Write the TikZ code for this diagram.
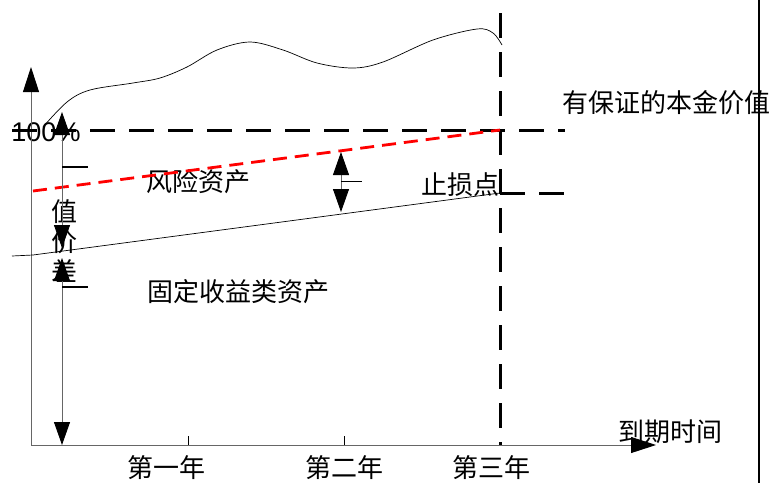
\documentclass[tikz,border=0pt]{standalone}
\usepackage{fontspec}
\setmainfont{Liberation Sans}
\newfontfamily\cjk{Noto Sans CJK SC}
\usetikzlibrary{arrows.meta,positioning}
\definecolor{axisgray}{HTML}{666666}
\definecolor{riskred}{HTML}{FF0000}

\begin{document}
\begin{tikzpicture}[x=1pt,y=-1pt,
  lbl/.style={font=\cjk\fontsize{26pt}{30pt}\selectfont,inner sep=0pt,align=center},
  axis/.style={-{Triangle[width=16pt,length=25pt,color=black]},axisgray,line width=0.9pt},
  dbl/.style={{Triangle[width=16pt,length=23pt,color=black]}-{Triangle[width=16pt,length=23pt,color=black]},axisgray,line width=0.9pt},
  bigdash/.style={black,line width=3pt,dash pattern=on 25pt off 14pt},
  riskline/.style={riskred,line width=2.8pt,dash pattern=on 14pt off 8pt},
  fixline/.style={black,line width=0.7pt},
  mark tick/.style={black,line width=2.8pt},
  axis tick/.style={black,line width=0.6pt}
]
  \useasboundingbox (0,0) rectangle (772,483);
  % labels
  \node[font=\fontsize{27pt}{30pt}\selectfont,inner sep=0pt] (n100) at (46,132) {100\%};
  \node[lbl] (principal) at (666,103) {有保证的本金价值};
  \node[lbl] (risk) at (198,182) {风险资产};
  \node[lbl] (stop) at (460,185) {止损点};
  \node[lbl] (fixed) at (238,292) {固定收益类资产};
  \node[lbl] (spread) at (65,241) {值\\价\\差};
  \node[lbl] (y1) at (166,468) {第一年};
  \node[lbl] (y2) at (344,468) {第二年};
  \node[lbl] (y3) at (491,468) {第三年};
  \node[lbl] (tlabel) at (670,432) {到期时间};
  % axes
  \coordinate (O) at (31,445);
  \coordinate (ytop) at (31,67);
  \coordinate (xend) at (656,445);
  \draw[axis] (O) -- (ytop);
  \draw[axis] (O) -- (xend);
  \foreach \t/\x in {t1/188,t2/344} {
    \coordinate (\t) at (\x,445);
    \draw[axis tick] (\t) -- ++(0,-9);
  }
  % portfolio value
  \draw[black,line width=0.7pt] plot[smooth,tension=0.55] coordinates {(43,127) (67,102) (90,90) (133,83) (160,78) (187,67) (217,50) (250,42) (283,50) (317,63) (353,68) (383,62) (433,40) (477,29) (493,33) (502,45)};
  % lines
  \coordinate (h1a) at (12,130);
  \coordinate (h1b) at (565,130);
  \coordinate (p3) at (500,130);
  \coordinate (s3) at (500,193);
  \coordinate (h2b) at (565,193);
  \coordinate (vtop) at (500,13);
  \coordinate (vbot) at (500,445);
  \coordinate (f0) at (12,256);
  \coordinate (f1) at (33,255);
  \coordinate (r0) at (33,191);
  \draw[bigdash] (h1a) -- (h1b);
  \draw[bigdash] (s3) -- (h2b);
  \draw[bigdash] (vtop) -- (vbot);
  \draw[riskline] (r0) -- (p3);
  \draw[fixline] (f0) -- (f1) -- (s3);
  % spread arrows
  \coordinate (a1) at (62,112);
  \coordinate (a2) at (62,248);
  \coordinate (a3) at (62,258);
  \coordinate (a4) at (62,445);
  \draw[dbl] (a1) -- (a2);
  \draw[dbl] (a3) -- (a4);
  \draw[mark tick] (62,167) -- (88,167);
  \draw[mark tick] (62,287) -- (88,287);
  \coordinate (m1) at (341,152);
  \coordinate (m2) at (341,212);
  \draw[dbl] (m1) -- (m2);
  \draw[axis tick] (341,181) -- (362,181);
  % frame edge
  \coordinate (e1) at (759,0);
  \coordinate (e2) at (759,483);
  \draw[black,line width=2pt] (e1) -- (e2);
\end{tikzpicture}
\end{document}
